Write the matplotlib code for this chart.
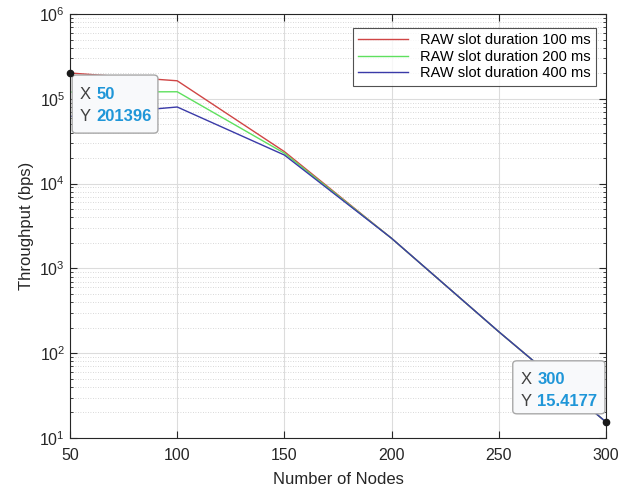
"""Throughput vs number of nodes for three RAW slot durations (log scale)."""
import matplotlib

matplotlib.use("Agg")
import matplotlib.pyplot as plt
from matplotlib.patches import FancyBboxPatch
from matplotlib.ticker import LogLocator, NullFormatter

plt.rcParams["font.family"] = ["Liberation Sans", "DejaVu Sans"]

nodes = [50, 100, 150, 200, 250, 300]
thr_100ms = [201396, 163000, 23800, 2260, 179, 15.4177]
thr_200ms = [120000, 121000, 22800, 2260, 179, 15.4177]
thr_400ms = [62000, 80000, 21700, 2260, 179, 15.4177]
labels = ["RAW slot duration 100 ms", "RAW slot duration 200 ms", "RAW slot duration 400 ms"]
colors = ["#d04545", "#5ee05e", "#3a3aa8"]

# data tips: (x, y, box left, box bottom, box right, box top) in axes fraction
tips = [
    (50, 201396, 0.004, 0.719, 0.164, 0.856),
    (300, 15.4177, 0.826, 0.057, 0.998, 0.182),
]

fig = plt.figure(figsize=(6.28, 4.94), dpi=100)
ax = fig.add_axes([0.1115, 0.1134, 0.8535, 0.8583])

for ys, lab, c in zip([thr_100ms, thr_200ms, thr_400ms], labels, colors):
    ax.plot(nodes, ys, color=c, lw=1.0, label=lab)

ax.set_yscale("log")
ax.set_xlim(50, 300)
ax.set_ylim(10, 1e6)
ax.set_xticks([50, 100, 150, 200, 250, 300])
ax.yaxis.set_major_locator(LogLocator(base=10, numticks=10))
ax.yaxis.set_minor_locator(LogLocator(base=10, subs=range(2, 10), numticks=20))
ax.yaxis.set_minor_formatter(NullFormatter())

ax.grid(True, which="major", color="#dcdcdc", lw=0.8)
ax.grid(True, which="minor", axis="y", color="#cccccc", lw=0.6, ls=(0, (1, 2)))
ax.set_axisbelow(True)

ax.tick_params(which="both", direction="in", top=True, right=True, labelsize=11.5, colors="#262626")
ax.tick_params(which="major", length=5)
ax.tick_params(which="minor", length=2.5)
ax.tick_params(axis="x", pad=7)
for s in ax.spines.values():
    s.set_color("#262626")
    s.set_linewidth(0.8)

ax.set_xlabel("Number of Nodes", fontsize=12, color="#262626", labelpad=7)
ax.set_ylabel("Throughput (bps)", fontsize=12, color="#262626")

leg = ax.legend(loc="upper right", fontsize=10.5, frameon=True, fancybox=False,
                handlelength=3.4, borderpad=0.4, labelspacing=0.15,
                bbox_to_anchor=(0.995, 0.985))
leg.get_frame().set_edgecolor("#262626")
leg.get_frame().set_linewidth(0.8)

for x, y, x0, y0, x1, y1 in tips:
    box = FancyBboxPatch((x0, y0), x1 - x0, y1 - y0, transform=ax.transAxes,
                         boxstyle="round,pad=0,rounding_size=0.008",
                         facecolor="#f8f9fb", edgecolor="#a8a8a8", lw=1.0,
                         zorder=5, clip_on=False)
    ax.add_patch(box)
    ty1 = y1 - 0.045
    ty2 = y1 - 0.097
    for ty, key, val in [(ty1, "X", f"{x:g}"), (ty2, "Y", f"{y:g}")]:
        ax.text(x0 + 0.014, ty, key, transform=ax.transAxes, fontsize=12,
                color="#404040", va="center", zorder=6)
        ax.text(x0 + 0.046, ty, val, transform=ax.transAxes, fontsize=12,
                color="#1f96d8", fontweight="bold", va="center", zorder=6)
    ax.plot(x, y, "o", color="#1a1a1a", ms=4.5, zorder=7, clip_on=False)

fig.savefig("out.png", dpi=100)
